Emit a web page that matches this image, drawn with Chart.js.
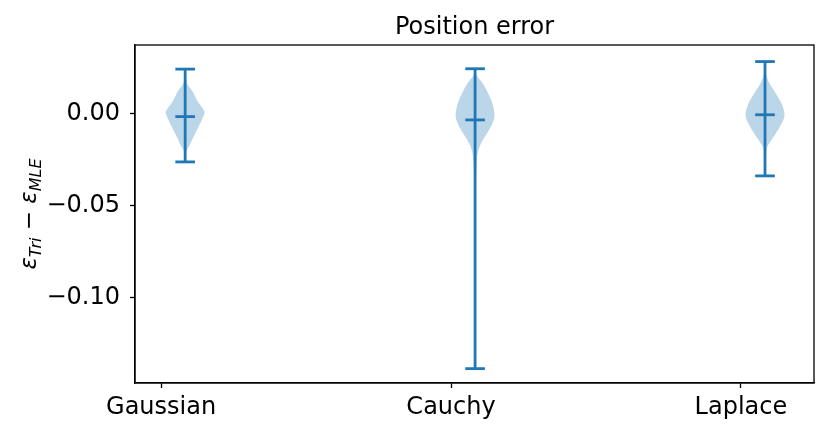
<!DOCTYPE html>
<html>
<head>
<meta charset="utf-8">
<script src="https://cdn.jsdelivr.net/npm/chart.js@4.4.1/dist/chart.umd.min.js"></script>
<style>
html,body{margin:0;padding:0;background:#fff;}
#wrap{width:830px;height:436px;position:relative;}
</style>
</head>
<body>
<div id="wrap"><canvas id="c" width="830" height="436"></canvas></div>
<script>
// ---- data ----
const categories = ["Gaussian", "Cauchy", "Laplace"];
const tickPositions = [1, 2, 3];
const violinPositions = [1.083, 2.083, 3.083];
const maxima = [0.0243, 0.0245, 0.0284];
const minima = [-0.0261, -0.1384, -0.0337];
const medians = [-0.0015, -0.0033, -0.0005];
const yTicks = [-0.10, -0.05, 0.00];
const titleText = "Position error";
// violin profiles (value, relative density)
const gaussY = [0.0243, 0.0200, 0.0161, 0.0125, 0.0071, 0.0034, 0.0007, -0.0029, -0.0074, -0.0129, -0.0165, -0.0201, -0.0261];
const gaussD = [0, 0.04, 0.12, 0.36, 0.62, 0.87, 1.0, 0.87, 0.67, 0.41, 0.26, 0.08, 0];
const cauchyY = [0.0245, 0.0205, 0.0161, 0.0071, -0.0011, -0.0074, -0.0147, -0.0201, -0.0274, -0.0450, -0.0800, -0.1384];
const cauchyD = [0, 0.10, 0.42, 0.84, 1.0, 0.79, 0.37, 0.16, 0.08, 0.03, 0.015, 0];
const laplaceY = [0.0284, 0.0216, 0.0170, 0.0125, 0.0053, -0.0011, -0.0074, -0.0129, -0.0183, -0.0237, -0.0337];
const laplaceD = [0, 0.05, 0.21, 0.47, 0.86, 1.0, 0.74, 0.42, 0.10, 0.05, 0];

const profilesY = [gaussY, cauchyY, laplaceY];
const profilesD = [gaussD, cauchyD, laplaceD];
const halfWidth = 0.0672;
const xMin = 0.91, xMax = 3.252;
const yMin = -0.1462, yMax = 0.0374;

const BLUE = '#1f77b4';
const FILL = 'rgba(31,119,180,0.3)';
const FONT = '"DejaVu Sans"';

const datasets = [];
// violin bodies
for (let i = 0; i < categories.length; i++) {
  const p = violinPositions[i];
  const ys = profilesY[i], ds = profilesD[i];
  const pts = [];
  for (let k = 0; k < ys.length; k++) pts.push({x: p - halfWidth * ds[k], y: ys[k]});
  for (let k = ys.length - 1; k >= 0; k--) pts.push({x: p + halfWidth * ds[k], y: ys[k]});
  datasets.push({data: pts, showLine: true, fill: 'shape', backgroundColor: FILL,
    borderWidth: 0, borderColor: 'rgba(0,0,0,0)', pointRadius: 0, tension: 0.3, order: 3});
}
// stems
for (let i = 0; i < categories.length; i++) {
  const p = violinPositions[i];
  datasets.push({data: [{x: p, y: minima[i]}, {x: p, y: maxima[i]}], showLine: true,
    borderColor: BLUE, borderWidth: 2.8, pointRadius: 0, fill: false, order: 1});
}
// caps and medians
const capPts = [];
for (let i = 0; i < categories.length; i++) {
  capPts.push({x: violinPositions[i], y: minima[i]});
  capPts.push({x: violinPositions[i], y: maxima[i]});
  capPts.push({x: violinPositions[i], y: medians[i]});
}
datasets.push({data: capPts, showLine: false, pointStyle: 'line', pointRadius: 9.8,
  pointBorderColor: BLUE, pointBorderWidth: 2.8, borderColor: BLUE, order: 0});

const frame = {
  id: 'frame',
  afterDraw(chart) {
    const {ctx, chartArea: a} = chart;
    ctx.save();
    ctx.strokeStyle = '#000';
    ctx.lineWidth = 1.3;
    ctx.strokeRect(a.left, a.top, a.right - a.left, a.bottom - a.top);
    // title centred over the plot area
    ctx.fillStyle = '#000';
    ctx.font = '24px ' + FONT;
    ctx.textAlign = 'center';
    ctx.textBaseline = 'alphabetic';
    ctx.fillText(titleText, (a.left + a.right) / 2, 34);
    // y-axis label with subscripts
    ctx.textAlign = 'left';
    ctx.translate(28, (a.top + a.bottom) / 2);
    ctx.rotate(-Math.PI / 2);
    const big = 23, small = 16;
    const parts = [
      {t: 'ε', f: 'italic ' + big + 'px ' + FONT, dy: 0},
      {t: 'Tri', f: 'italic ' + small + 'px ' + FONT, dy: 4.5},
      {t: ' − ', f: big + 'px ' + FONT, dy: 0},
      {t: 'ε', f: 'italic ' + big + 'px ' + FONT, dy: 0},
      {t: 'MLE', f: 'italic ' + small + 'px ' + FONT, dy: 4.5}
    ];
    let total = 0;
    for (const p of parts) { ctx.font = p.f; p.w = ctx.measureText(p.t).width; total += p.w; }
    let x = -total / 2;
    for (const p of parts) { ctx.font = p.f; ctx.fillText(p.t, x, 8 + p.dy); x += p.w; }
    ctx.restore();
  }
};

new Chart(document.getElementById('c'), {
  type: 'scatter',
  data: {datasets},
  options: {
    responsive: false,
    animation: false,
    layout: {padding: {left: 0, right: 16, top: 45, bottom: 0}},
    plugins: {
      legend: {display: false},
      tooltip: {enabled: false},
      title: {display: false}
    },
    scales: {
      x: {
        type: 'linear', min: xMin, max: xMax,
        afterBuildTicks(s) { s.ticks = tickPositions.map(v => ({value: v})); },
        afterFit(s) { s.height = 53; },
        ticks: {color: '#000', font: {family: FONT, size: 24}, padding: 5,
          maxRotation: 0, autoSkip: false,
          callback: (v) => categories[tickPositions.indexOf(v)]},
        grid: {drawOnChartArea: false, drawTicks: true, tickLength: 5, color: '#000', tickWidth: 1.3},
        border: {display: true, color: '#000', width: 1.3}
      },
      y: {
        type: 'linear', min: yMin, max: yMax,
        afterBuildTicks(s) { s.ticks = yTicks.map(v => ({value: v})); },
        afterFit(s) { s.width = 135; },
        ticks: {color: '#000', font: {family: FONT, size: 24}, padding: 10,
          callback: (v) => v.toFixed(2).replace('-', '\u2212')},
        grid: {drawOnChartArea: false, drawTicks: true, tickLength: 5, color: '#000', tickWidth: 1.3},
        border: {display: true, color: '#000', width: 1.3}
      }
    }
  },
  plugins: [frame]
});
</script>
</body>
</html>
